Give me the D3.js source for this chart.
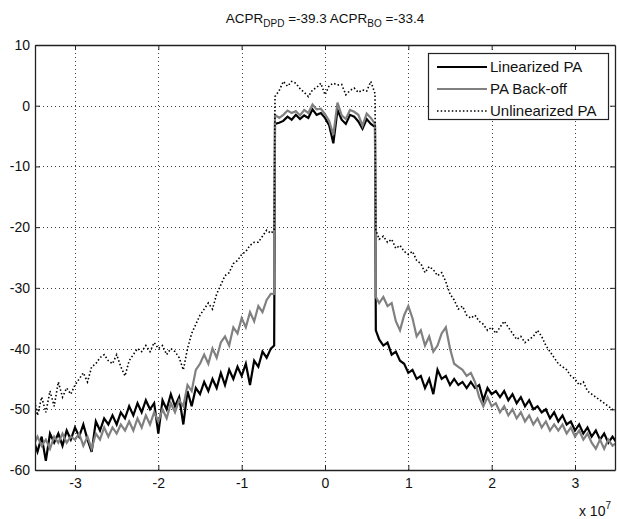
<!DOCTYPE html>
<html>
<head>
<meta charset="utf-8">
<script src="https://cdn.jsdelivr.net/npm/d3@7"></script>
<style>
  html, body { margin: 0; padding: 0; background: #fff; }
  svg { display: block; font-family: "Liberation Sans", Arial, Helvetica, sans-serif; }
</style>
</head>
<body>
<svg id="chart" width="617" height="519"></svg>
<script>
// ---- data (frequency in units of 1e7 Hz, PSD in dB) ----
const freq = [
  -3.50,-3.45,-3.40,-3.35,-3.30,-3.25,-3.20,-3.15,-3.10,-3.05,
  -3.00,-2.95,-2.90,-2.85,-2.80,-2.75,-2.70,-2.65,-2.60,-2.55,
  -2.50,-2.45,-2.40,-2.35,-2.30,-2.25,-2.20,-2.15,-2.10,-2.05,
  -2.00,-1.95,-1.90,-1.85,-1.80,-1.75,-1.70,-1.65,-1.60,-1.55,
  -1.50,-1.45,-1.40,-1.35,-1.30,-1.25,-1.20,-1.15,-1.10,-1.05,
  -1.00,-0.95,-0.90,-0.85,-0.80,-0.75,-0.70,-0.65,
  -0.61,-0.60,
  -0.55,-0.50,-0.45,-0.40,-0.35,-0.30,-0.25,-0.20,-0.15,-0.10,
  -0.05,0.00,0.05,0.10,0.15,0.20,0.25,0.30,0.35,0.40,
  0.45,0.50,0.55,
  0.60,0.61,
  0.65,0.70,0.75,0.80,0.85,0.90,0.95,1.00,1.05,1.10,
  1.15,1.20,1.25,1.30,1.35,1.40,1.45,1.50,1.55,1.60,
  1.65,1.70,1.75,1.80,1.85,1.90,1.95,2.00,2.05,2.10,
  2.15,2.20,2.25,2.30,2.35,2.40,2.45,2.50,2.55,2.60,
  2.65,2.70,2.75,2.80,2.85,2.90,2.95,3.00,3.05,3.10,
  3.15,3.20,3.25,3.30,3.35,3.40,3.45,3.50
];
const linearized = [
  -55,-57,-54.5,-58.5,-54,-55.5,-54,-56,-53.5,-55,
  -53,-54.5,-52.5,-55,-57,-52,-53.5,-51.5,-52.5,-51,
  -52.5,-50.5,-51.5,-49.5,-51,-49,-50.5,-48.5,-50,-49,
  -54,-48.5,-50,-47.5,-49.5,-48,-52.5,-47,-49.5,-46.5,
  -47.5,-45.5,-47,-45,-46.5,-44,-46,-43.5,-45,-43,
  -44.5,-42.5,-46,-42,-43,-40.5,-41.5,-40,
  -39.5,-3,
  -2.8,-2.5,-1.8,-2.3,-1.5,-2.2,-1.6,-2.0,-0.6,-1.5,
  -1.2,-2.0,-3.2,-6.2,-0.7,-2.3,-3.0,-1.5,-1.8,-2.6,
  -3.8,-2.2,-3.0,
  -3.5,-37,
  -38.5,-39.5,-39,-41,-40.5,-42,-42.5,-44,-43.5,-45,
  -44.5,-46.5,-45,-47.5,-43.5,-45,-44.5,-46,-45,-46,
  -45.5,-46.5,-45.5,-46.5,-46,-48.5,-46.5,-47.5,-47,-48,
  -47,-48.5,-47.5,-49,-48,-49.5,-48.5,-50,-49.5,-50.5,
  -50,-51.5,-50.5,-52,-51,-52.5,-52,-53.5,-52.5,-54,
  -53,-54.5,-53.5,-55,-54,-55.5,-54.5,-55.5
];
const backoff = [
  -56,-54.5,-56,-55,-56.5,-54.5,-55.5,-54,-55.5,-54.5,
  -55,-54,-56,-54.5,-56.5,-54,-55,-53,-54.5,-53,
  -54,-52.5,-53.5,-52,-53.5,-51.5,-53,-51,-52.5,-50.5,
  -52,-50,-51.5,-49,-50.5,-48.5,-49.5,-46,-47,-43.5,
  -42.5,-41,-42.5,-40,-41.5,-39,-38,-39.5,-36.5,-37.5,
  -35,-36.5,-34,-35.5,-33,-34,-32,-31,
  -31,-1.5,
  -2.0,-1.5,-0.8,-1.2,-0.9,-1.6,-0.7,-1.2,0.2,-0.6,
  -0.5,-1.4,-2.5,-4.8,0.5,-1.6,-2.2,-0.7,-1.0,-1.5,
  -3.3,-1.3,-2.0,
  -3,-31.5,
  -32.5,-31.5,-33,-32.5,-35.5,-37,-34.5,-33,-35,-38,
  -37,-39.5,-38,-40.5,-39.5,-37.5,-36.5,-40,-42.5,-43,
  -43.5,-44.5,-44,-45.5,-48,-49.5,-48,-49.5,-49,-50.5,
  -49.5,-51,-50,-51.5,-50.5,-52,-51,-52.5,-51.5,-53,
  -52,-53.5,-52.5,-53.5,-52.5,-54,-53,-54.5,-53.5,-55,
  -54,-55.5,-56.5,-55,-56.5,-55,-56,-55.5
];
const unlinearized = [
  -47.5,-51,-48,-50.5,-47,-49.5,-45.5,-48,-46.5,-47.5,
  -46,-45,-44,-45.5,-43,-42.5,-41.5,-41,-42,-42.5,
  -41,-43,-44.5,-42,-41,-40,-40.5,-39.5,-40.5,-39,
  -40,-39.5,-41,-40,-40.5,-41.5,-43.5,-40,-37.5,-36,
  -34.5,-33.5,-32.5,-33.5,-31,-29.5,-28,-27.5,-26,-25.5,
  -24.5,-24,-23,-22.5,-22.5,-21.5,-20.5,-21,
  -20.5,1.5,
  2.5,4.0,3.2,4.0,3.7,2.8,2.2,1.5,2.6,3.0,
  3.7,1.8,3.3,3.7,3.4,3.5,1.8,2.5,2.9,2.2,
  2.6,2.4,4.0,
  2,-20.5,
  -22,-21.5,-22.5,-22,-23.5,-23,-24,-24.5,-24,-25.5,
  -26,-27.5,-26.5,-27,-28,-27.5,-29,-31,-32,-33.5,
  -33,-34.5,-35,-34.5,-35.5,-36,-37,-36.5,-37.5,-36.5,
  -35.5,-36.5,-37.5,-38.5,-38,-39,-38.5,-38,-37,-38,
  -39.5,-40.5,-41.5,-42.5,-43,-43.5,-44.5,-45,-46,-45.5,
  -47,-47.5,-48,-48.5,-49,-49.5,-50,-50.5
];
const seriesNames = ["Linearized PA", "PA Back-off", "Unlinearized PA"];
const xTicks = [-3, -2, -1, 0, 1, 2, 3];
const yTicks = [10, 0, -10, -20, -30, -40, -50, -60];
const xDomain = [-3.48, 3.48];
const yDomain = [-60, 10];

// ---- layout ----
const svg = d3.select("#chart");
const pL = 35, pR = 615, pT = 45, pB = 470;
const x = d3.scaleLinear().domain(xDomain).range([pL, pR]);
const y = d3.scaleLinear().domain(yDomain).range([pB, pT]);
const font = '"Liberation Sans", Arial, Helvetica, sans-serif';
const fmt = d => String(d);   // plain hyphen-minus like the original

svg.append("rect").attr("width", 617).attr("height", 519).attr("fill", "#fff");

svg.append("defs").append("clipPath").attr("id", "plotclip")
  .append("rect").attr("x", pL).attr("y", pT)
  .attr("width", pR - pL).attr("height", pB - pT);

// grid
const grid = svg.append("g").attr("stroke", "#000").attr("stroke-width", 1)
  .attr("stroke-dasharray", "1,3").attr("opacity", 0.75);
grid.selectAll(".gx").data(xTicks).join("line")
  .attr("x1", d => Math.round(x(d)) + 0.5).attr("x2", d => Math.round(x(d)) + 0.5)
  .attr("y1", pT).attr("y2", pB);
grid.selectAll(".gy").data(yTicks.filter(d => d > yDomain[0] && d < yDomain[1])).join("line")
  .attr("y1", d => Math.round(y(d)) + 0.5).attr("y2", d => Math.round(y(d)) + 0.5)
  .attr("x1", pL).attr("x2", pR);

// series
const series = [
  { name: seriesNames[0], values: linearized, color: "#000", width: 2.2, dash: null },
  { name: seriesNames[1], values: backoff, color: "#808080", width: 2.2, dash: null },
  { name: seriesNames[2], values: unlinearized, color: "#000", width: 1.6, dash: "1.5,2.2" }
];
const line = d3.line().x(d => x(d[0])).y(d => y(d[1]));
const plot = svg.append("g").attr("clip-path", "url(#plotclip)");
series.forEach(s => {
  plot.append("path")
    .datum(freq.map((f, i) => [f, s.values[i]]))
    .attr("fill", "none")
    .attr("stroke", s.color)
    .attr("stroke-width", s.width)
    .attr("stroke-linejoin", "miter")
    .attr("stroke-dasharray", s.dash)
    .attr("d", line);
});

// axes (ticks inward, all four sides)
function styleAxis(g) {
  g.selectAll("path").attr("stroke", "#222").attr("stroke-width", 1.3);
  g.selectAll("line").attr("stroke", "#222");
  g.selectAll("text").attr("font-family", font).attr("font-size", 14).attr("fill", "#111");
}
svg.append("g").attr("transform", `translate(0,${pB})`)
  .call(d3.axisBottom(x).tickValues(xTicks).tickSizeInner(-5).tickSizeOuter(0).tickPadding(8)
    .tickFormat(fmt))
  .call(styleAxis);
svg.append("g").attr("transform", `translate(0,${pT})`)
  .call(d3.axisTop(x).tickValues(xTicks).tickSizeInner(-5).tickSizeOuter(0).tickFormat(""))
  .call(styleAxis);
svg.append("g").attr("transform", `translate(${pL},0)`)
  .call(d3.axisLeft(y).tickValues(yTicks).tickSizeInner(-5).tickSizeOuter(0).tickPadding(5)
    .tickFormat(fmt))
  .call(styleAxis);
svg.append("g").attr("transform", `translate(${pR},0)`)
  .call(d3.axisRight(y).tickValues(yTicks).tickSizeInner(-5).tickSizeOuter(0).tickFormat(""))
  .call(styleAxis);

// title
const title = svg.append("text").attr("x", (pL + pR) / 2).attr("y", 23)
  .attr("text-anchor", "middle").attr("font-family", font).attr("font-size", 13.5).attr("fill", "#111");
title.append("tspan").text("ACPR");
title.append("tspan").attr("font-size", 10).attr("dy", 4).text("DPD");
title.append("tspan").attr("dy", -4).text(" =-39.3 ACPR");
title.append("tspan").attr("font-size", 10).attr("dy", 4).text("BO");
title.append("tspan").attr("dy", -4).text(" =-33.4");

// x 10^7 exponent label
const ex = svg.append("text").attr("x", 611).attr("y", 516).attr("text-anchor", "end")
  .attr("font-family", font).attr("font-size", 14).attr("fill", "#111");
ex.append("tspan").text("x 10");
ex.append("tspan").attr("font-size", 10).attr("dy", -7).text("7");

// legend
const lg = svg.append("g");
lg.append("rect").attr("x", 428.5).attr("y", 53.5).attr("width", 180).attr("height", 66)
  .attr("fill", "#fff").attr("stroke", "#222").attr("stroke-width", 1.2);
const rowsY = [67, 89, 111];
series.forEach((s, i) => {
  lg.append("line").attr("x1", 437).attr("x2", 487).attr("y1", rowsY[i]).attr("y2", rowsY[i])
    .attr("stroke", s.color).attr("stroke-width", s.width).attr("stroke-dasharray", s.dash);
  lg.append("text").attr("x", 490).attr("y", rowsY[i] + 5)
    .attr("font-family", font).attr("font-size", 15).attr("fill", "#111").text(s.name);
});
</script>
</body>
</html>
